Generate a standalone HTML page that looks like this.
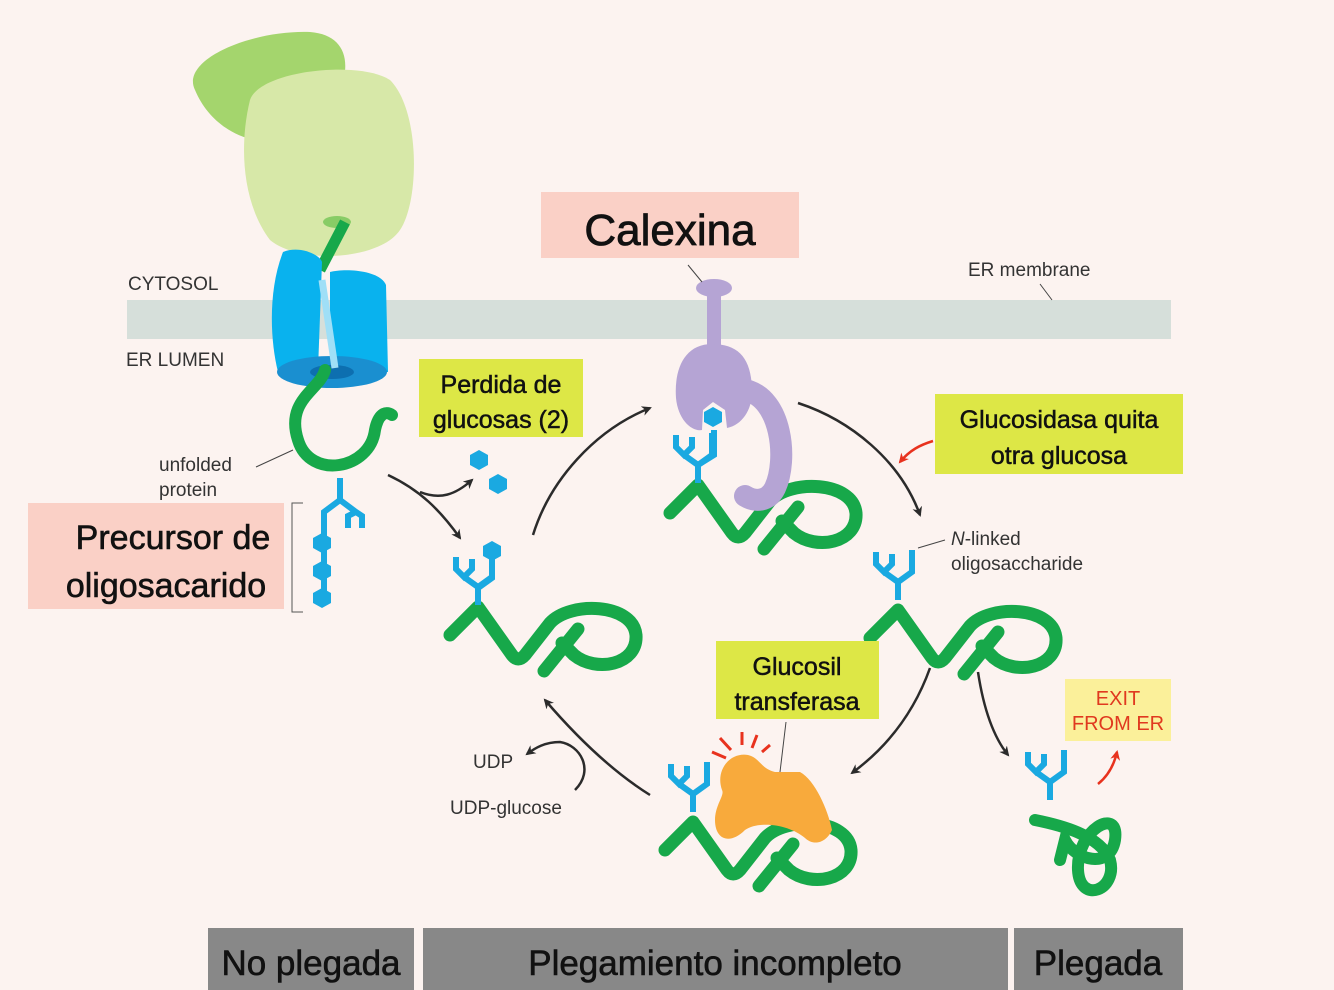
<!DOCTYPE html>
<html><head><meta charset="utf-8"><style>
body{margin:0;background:#fcf3f0;}
svg{display:block;font-family:"Liberation Sans",sans-serif;}
</style></head><body>
<svg width="1334" height="990" viewBox="0 0 1334 990" xmlns="http://www.w3.org/2000/svg">
<defs>
<g id="chain" fill="none" stroke="#17a84a" stroke-width="13" stroke-linecap="round" stroke-linejoin="round">
<path d="M-28,28 L0,0 L34,48 Q40,56 47,48 L72,16 C92,-6 155,-4 158,28 C160,58 118,66 96,48 L84,36"/>
<path d="M66,64 L100,22"/>
</g>
<g id="gly" fill="none" stroke="#1aa9e1" stroke-width="6">
<path d="M0,0 V-18 L14,-28 V-50 M0,-18 L-14,-28 M-22,-48 V-36 L-14,-28 L-6,-36 V-46"/>
</g>
<marker id="ah" markerWidth="10" markerHeight="10" refX="8" refY="5" orient="auto" markerUnits="userSpaceOnUse"><path d="M0,0 L10,5 L0,10 L3,5z" fill="#2b2b2b"/></marker>
<marker id="ar" markerWidth="10" markerHeight="10" refX="8" refY="5" orient="auto" markerUnits="userSpaceOnUse"><path d="M0,0 L10,5 L0,10 L3,5z" fill="#e8321e"/></marker>
</defs>
<rect width="1334" height="990" fill="#fcf3f0"/>
<rect x="127" y="300" width="1044" height="39" fill="#d6dfda"/>
<!-- ribosome -->
<path d="M195,90 C180,60 250,30 310,32 C350,35 355,70 330,110 C300,160 220,150 195,90z" fill="#a4d56d"/>
<path d="M250,100 C260,70 360,60 390,80 C420,110 420,200 400,230 C380,260 300,265 270,240 C240,200 240,140 250,100z" fill="#d7e8a8"/>
<ellipse cx="337" cy="222" rx="14" ry="6" fill="#88cc66"/>
<path d="M345,222 L320,270" stroke="#17a84a" stroke-width="11" fill="none"/>
<!-- translocon -->
<path d="M283,252 C300,245 320,255 322,262 L318,370 L278,372 C270,340 268,290 283,252z" fill="#09b2ee"/>
<path d="M330,272 C345,268 380,270 386,285 L388,372 L330,372z" fill="#09b2ee"/>
<ellipse cx="332" cy="372" rx="55" ry="16" fill="#1a8fd0"/>
<ellipse cx="332" cy="372" rx="22" ry="7" fill="#0d6fb0"/>
<path d="M322,280 L335,368" stroke="#9fdff7" stroke-width="7"/>
<path d="M325,370 C320,390 285,400 298,440 C310,480 370,470 375,430 C378,415 385,410 392,415" fill="none" stroke="#17a84a" stroke-width="12" stroke-linecap="round"/>
<!-- precursor glycan -->
<g fill="none" stroke="#1aa9e1" stroke-width="6"><path d="M340,478 V500 L324,512 V605 M340,500 L356,512 M348,528 V516 L356,512 L362,516 V528"/></g>
<g fill="#1aa9e1"><polygon points="322,533 331,538 331,548 322,553 313,548 313,538"/><polygon points="322,561 331,566 331,576 322,581 313,576 313,566"/><polygon points="322,588 331,593 331,603 322,608 313,603 313,593"/></g>
<path d="M303,503 H292 V612 H303" fill="none" stroke="#555" stroke-width="1"/>
<g fill="#1aa9e1"><polygon points="479,450 488,455 488,465 479,470 470,465 470,455"/><polygon points="498,474 507,479 507,489 498,494 489,489 489,479"/></g>
<!-- protein 1 -->
<use href="#chain" x="478" y="607"/><use href="#gly" x="478" y="605"/>
<polygon points="492,541 501,546 501,556 492,561 483,556 483,546" fill="#1aa9e1"/>
<path d="M492,556 V578 L478,588" stroke="#1aa9e1" stroke-width="6" fill="none"/>
<!-- calnexin -->
<use href="#chain" x="698" y="485"/><use href="#gly" x="698" y="483"/>
<path d="M698,465 L714,455 V430" stroke="#1aa9e1" stroke-width="6" fill="none"/>
<ellipse cx="714" cy="288" rx="18" ry="9" fill="#b5a4d4"/>
<rect x="707" y="288" width="14" height="60" fill="#b5a4d4"/>
<path d="M712,344 C684,344 674,370 676,398 C678,420 692,432 702,430 L703,410 L713,402 L725,410 L727,428 C742,425 752,410 752,392 C752,360 740,344 712,344z" fill="#b5a4d4"/>
<path d="M745,390 C782,398 788,460 775,488 C768,502 755,502 745,496" fill="none" stroke="#b5a4d4" stroke-width="22" stroke-linecap="round"/>
<polygon points="713,407 722,412 722,422 713,427 704,422 704,412" fill="#1aa9e1"/>
<!-- protein 3 -->
<use href="#chain" x="898" y="610"/><use href="#gly" x="898" y="600"/>
<!-- protein 4 -->
<use href="#chain" x="693" y="822"/><use href="#gly" x="693" y="812"/>
<path d="M722,790 C715,770 730,752 748,755 C760,758 760,768 775,772 L800,772 C815,780 828,810 832,830 C825,845 812,845 805,838 C790,825 760,820 745,830 C730,845 715,840 715,820 C715,805 725,795 722,790z" fill="#f8aa3c"/>
<g stroke="#e8321e" stroke-width="3"><path d="M712,752 L726,758 M720,738 L731,750 M742,732 L742,745 M757,735 L752,748 M770,745 L762,752"/></g>
<!-- folded -->
<use href="#gly" x="1050" y="800"/>
<g fill="none" stroke="#17a84a" stroke-width="12" stroke-linecap="round"><path d="M1035,820 C1060,825 1100,835 1110,860 C1118,890 1080,905 1078,870 C1076,830 1120,805 1115,840 C1110,870 1075,860 1065,840 L1060,860"/></g>
<!-- arrows -->
<g fill="none" stroke="#2b2b2b" stroke-width="2.5">
<path d="M388,475 C420,490 440,510 460,538" marker-end="url(#ah)"/>
<path d="M420,492 C440,500 455,495 472,480" marker-end="url(#ah)"/>
<path d="M533,535 C550,480 595,430 650,408" marker-end="url(#ah)"/>
<path d="M798,403 C850,420 900,460 920,515" marker-end="url(#ah)"/>
<path d="M930,668 C915,710 890,745 852,773" marker-end="url(#ah)"/>
<path d="M978,672 C983,705 992,735 1008,755" marker-end="url(#ah)"/>
<path d="M650,795 C610,770 575,735 545,700" marker-end="url(#ah)"/>
<path d="M575,790 C595,770 580,745 560,742 C545,742 535,748 527,754" marker-end="url(#ah)"/>
</g>
<path d="M933,441 C920,445 910,450 900,462" stroke="#e8321e" stroke-width="2.5" fill="none" marker-end="url(#ar)"/>
<path d="M1098,784 C1108,776 1114,765 1117,752" stroke="#e8321e" stroke-width="2.5" fill="none" marker-end="url(#ar)"/>
<g stroke="#444" stroke-width="1"><path d="M688,265 L702,282 M1040,284 L1052,300 M256,467 L293,450 M786,722 L780,772 M945,540 L918,548"/></g>
<g font-size="19" fill="#333">
<text x="128" y="290">CYTOSOL</text><text x="126" y="366">ER LUMEN</text>
<text x="968" y="276">ER membrane</text>
<text x="159" y="471">unfolded</text><text x="159" y="496">protein</text>
<text x="951" y="545"><tspan font-style="italic">N</tspan>-linked</text><text x="951" y="570">oligosaccharide</text>
<text x="473" y="768">UDP</text><text x="450" y="814">UDP-glucose</text>
</g>
<rect x="541" y="192" width="258" height="66" fill="#fad0c6"/>
<text x="670" y="245" font-size="44" text-anchor="middle" fill="#111" stroke="#111" stroke-width="0.8">Calexina</text>
<rect x="28" y="503" width="256" height="106" fill="#fad0c6"/>
<g font-size="34" text-anchor="middle" fill="#111" stroke="#111" stroke-width="0.6">
<text x="173" y="549">Precursor de</text><text x="166" y="597">oligosacarido</text></g>
<g fill="#dde746"><rect x="419" y="359" width="164" height="78"/><rect x="935" y="394" width="248" height="80"/><rect x="716" y="641" width="163" height="78"/></g>
<rect x="1065" y="679" width="106" height="62" fill="#fbf09a"/>
<g font-size="25" text-anchor="middle" fill="#111" stroke="#111" stroke-width="0.5">
<text x="501" y="393">Perdida de</text><text x="501" y="428">glucosas (2)</text>
<text x="1059" y="428">Glucosidasa quita</text><text x="1059" y="464">otra glucosa</text>
<text x="797" y="675">Glucosil</text><text x="797" y="710">transferasa</text>
</g>
<g font-size="20" text-anchor="middle" fill="#e0391f"><text x="1118" y="705">EXIT</text><text x="1118" y="730">FROM ER</text></g>
<g fill="#888"><rect x="208" y="928" width="206" height="62"/><rect x="423" y="928" width="585" height="62"/><rect x="1014" y="928" width="169" height="62"/></g>
<g font-size="35" fill="#111" text-anchor="middle" stroke="#111" stroke-width="0.6"><text x="311" y="975">No plegada</text><text x="715" y="975">Plegamiento incompleto</text><text x="1098" y="975">Plegada</text></g>
</svg>
</body></html>
